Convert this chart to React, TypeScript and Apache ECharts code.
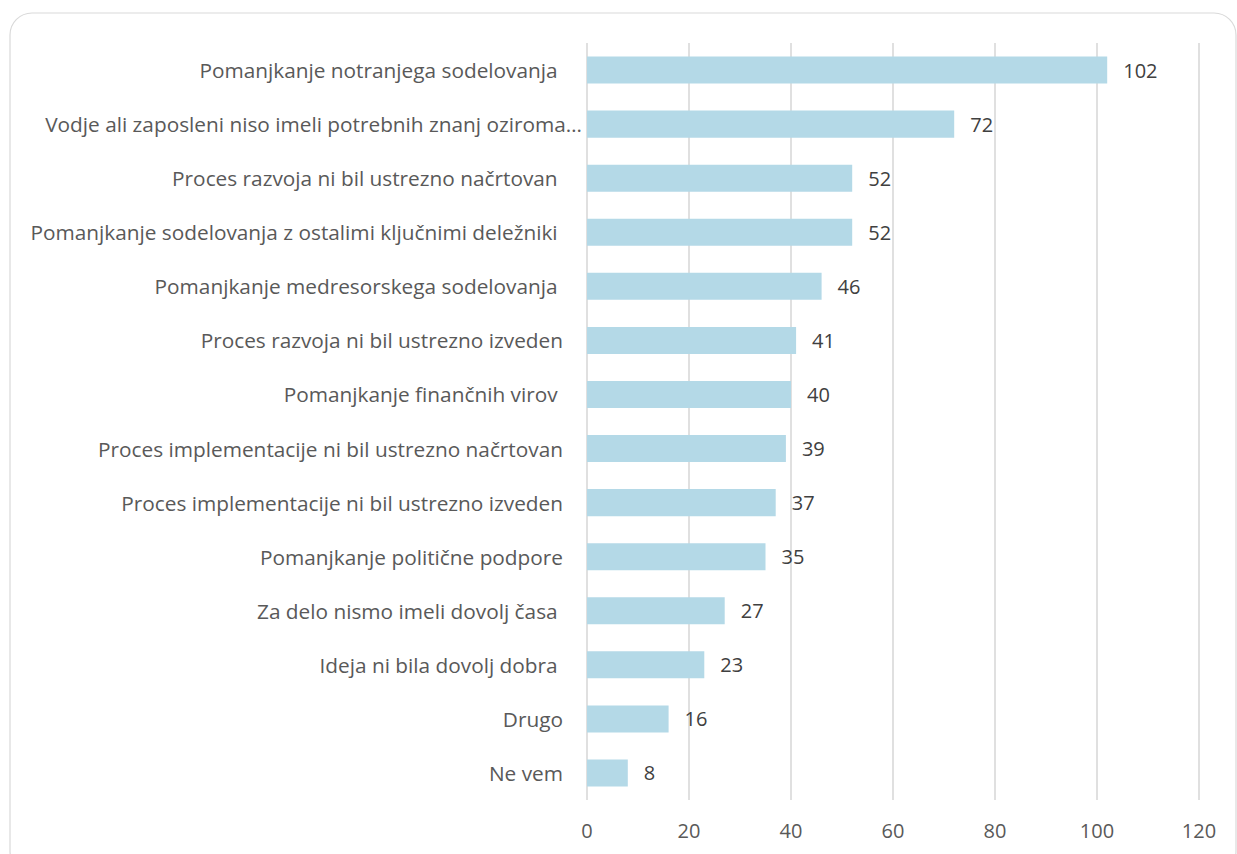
import React, { useEffect, useRef } from "react";
import * as echarts from "echarts";

const NB = "\u00a0";
const categories: string[] = [
  "Pomanjkanje notranjega sodelovanja" + NB,
  "Vodje ali zaposleni niso imeli potrebnih znanj oziroma…",
  "Proces razvoja ni bil ustrezno načrtovan" + NB,
  "Pomanjkanje sodelovanja z ostalimi ključnimi deležniki" + NB,
  "Pomanjkanje medresorskega sodelovanja" + NB,
  "Proces razvoja ni bil ustrezno izveden",
  "Pomanjkanje finančnih virov" + NB,
  "Proces implementacije ni bil ustrezno načrtovan",
  "Proces implementacije ni bil ustrezno izveden",
  "Pomanjkanje politične podpore",
  "Za delo nismo imeli dovolj časa" + NB,
  "Ideja ni bila dovolj dobra" + NB,
  "Drugo",
  "Ne vem",
];
const values: number[] = [102, 72, 52, 52, 46, 41, 40, 39, 37, 35, 27, 23, 16, 8];
const axisMin = 0;
const axisMax = 120;
const axisInterval = 20;

const FONT = "'Open Sans', 'Noto Sans', sans-serif";

export default function App() {
  const ref = useRef<HTMLDivElement>(null);
  useEffect(() => {
    if (!ref.current) return;
    const chart = echarts.init(ref.current, null, { renderer: "svg" });
    chart.setOption({
      animation: false,
      backgroundColor: "#ffffff",
      graphic: [
        {
          type: "rect",
          shape: { x: 10, y: 13, width: 1226, height: 860, r: 22 },
          style: { fill: "none", stroke: "#d9d9d9", lineWidth: 1.2 },
          silent: true,
          z: -1,
        },
      ],
      grid: { left: 587, right: 38, top: 43, bottom: 54, containLabel: false },
      xAxis: {
        type: "value",
        min: axisMin,
        max: axisMax,
        interval: axisInterval,
        axisLine: { show: false },
        axisTick: { show: false },
        splitLine: { show: true, lineStyle: { color: "#d9d9d9", width: 1.6 } },
        axisLabel: { color: "#595959", fontSize: 20, fontFamily: FONT, margin: 20 },
      },
      yAxis: {
        type: "category",
        data: categories,
        inverse: true,
        axisLine: { show: false },
        axisTick: { show: false },
        axisLabel: {
          color: "#595959",
          fontSize: 20.8,
          fontFamily: FONT,
          margin: 5,
          formatter: (v: string, i: number) => (i === 1 ? `{b|${v}}` : `{a|${v}}`),
          rich: {
            a: { color: "#595959", fontSize: 20.8, fontFamily: FONT, padding: [0, 19, 0, 0] },
            b: { color: "#595959", fontSize: 20.8, fontFamily: FONT, padding: [0, 0, 0, 0] },
          },
        },
      },
      series: [
        {
          type: "bar",
          data: values,
          barWidth: "50%",
          itemStyle: { color: "#b4d9e7" },
          label: {
            show: true,
            position: "right",
            distance: 16,
            color: "#404040",
            fontSize: 20,
            fontFamily: FONT,
          },
        },
      ],
    });
    return () => chart.dispose();
  }, []);
  return (
    <div
      ref={ref}
      style={{ position: "fixed", left: 0, top: 0, width: 1237, height: 854 }}
    />
  );
}
